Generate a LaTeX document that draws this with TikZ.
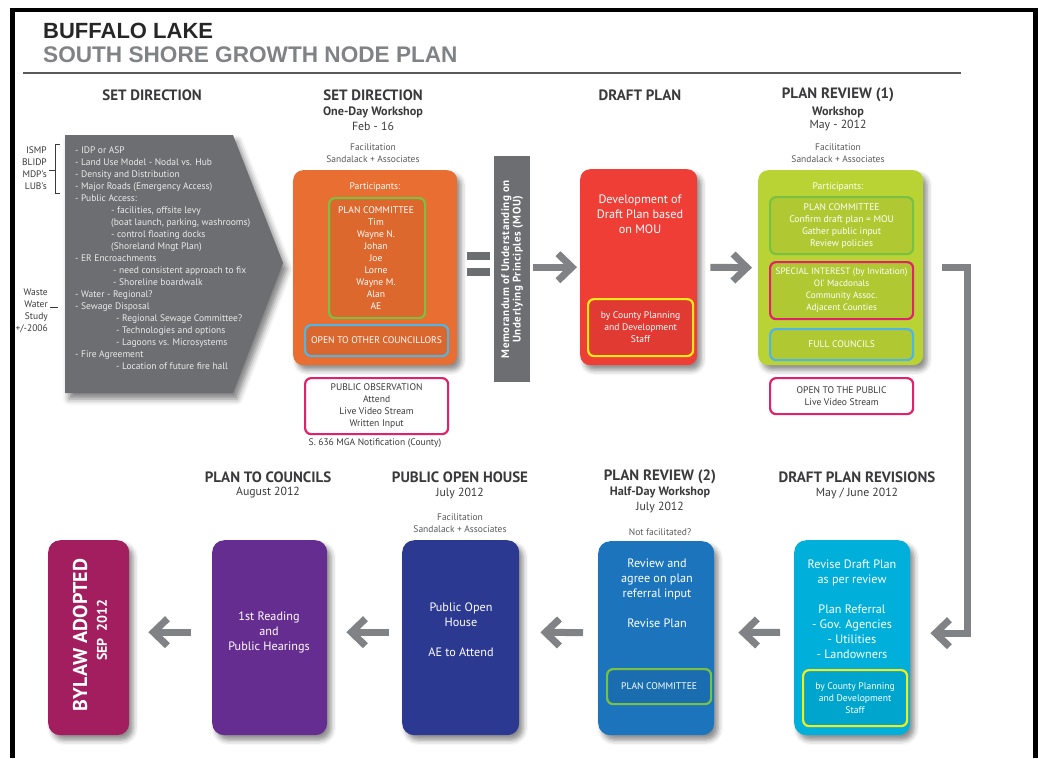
\documentclass[tikz,border=0pt]{standalone}
\usepackage{fontspec}
\setmainfont{PT Sans}
\newfontfamily\titlefont{Liberation Sans}
\newfontfamily\moufont[LetterSpace=5.0]{PT Sans}
\usetikzlibrary{arrows.meta,shadows.blur,calc}
\definecolor{cOrange}{HTML}{E86E31}
\definecolor{cRed}{HTML}{EE3E36}
\definecolor{cLime}{HTML}{BAD334}
\definecolor{cGreen}{HTML}{7AC143}
\definecolor{cBlueL}{HTML}{4FB5E6}
\definecolor{cPink}{HTML}{E0226B}
\definecolor{cYellow}{HTML}{F5EB19}
\definecolor{cGray}{HTML}{6D6E71}
\definecolor{cArrow}{HTML}{808285}
\definecolor{cBylaw}{HTML}{A21E5E}
\definecolor{cPurple}{HTML}{662D91}
\definecolor{cNavy}{HTML}{2B3990}
\definecolor{cBlue}{HTML}{1C75BC}
\definecolor{cCyan}{HTML}{00B0DB}
\definecolor{cHead}{HTML}{3A3A3C}
\definecolor{cSub}{HTML}{58595B}
\definecolor{cTitleGray}{HTML}{808285}
\tikzset{
  stage/.style={rectangle, rounded corners=10pt, anchor=north west, inner sep=0pt,
    blur shadow={shadow xshift=4pt, shadow yshift=-5pt, shadow blur radius=5pt, shadow opacity=45}},
  inbox/.style={rectangle, rounded corners=6pt, anchor=north west, line width=2.2pt, inner sep=0pt},
  hdr/.style={font=\bfseries\fontsize{15}{17}\selectfont, text=cHead, inner sep=0pt},
  subhdr/.style={font=\bfseries\fontsize{12.2}{14}\selectfont, text=cHead, inner sep=0pt},
  datetxt/.style={font=\fontsize{11.8}{14}\selectfont, text=cHead, inner sep=0pt},
  notetxt/.style={font=\fontsize{9.5}{12}\selectfont, text=cSub, inner sep=0pt, align=center},
  wsmall/.style={font=\fontsize{9.6}{12}\selectfont, text=white, inner sep=0pt, align=center},
  dsmall/.style={font=\fontsize{9.6}{12}\selectfont, text=cHead, inner sep=0pt, align=center},
  wbody/.style={font=\fontsize{12.2}{15}\selectfont, text=white, inner sep=0pt, align=center},
  flow/.style={draw=cArrow, line width=7pt, line join=miter, -{Straight Barb[length=14pt,width=27pt]}},
}
\begin{document}
\begin{tikzpicture}[x=1pt,y=-1pt]
\useasboundingbox (0,0) rectangle (1038,758);
% frame
\fill[black] (10,8) rectangle (1038,12);
\fill[black] (10,8) rectangle (15,758);
\fill[black] (1033,8) rectangle (1038,758);
% title
\node[anchor=base west, inner sep=0pt, font=\titlefont\bfseries\fontsize{22}{26}\selectfont, text=black!85] (title1) at (43,38) {BUFFALO LAKE};
\node[anchor=base west, inner sep=0pt, font=\titlefont\bfseries\fontsize{22.6}{26}\selectfont, text=cTitleGray] (title2) at (43,62) {SOUTH SHORE GROWTH NODE PLAN};
\draw[cSub, line width=1.1pt] (23,73) -- (961,73);

% ---------- top row headers
\node[hdr] (h1) at (152,95) {SET DIRECTION};
\node[hdr] (h2) at (373,95) {SET DIRECTION};
\node[subhdr] (h2b) at (373,112) {One-Day Workshop};
\node[datetxt] (h2c) at (373,126) {Feb - 16};
\node[notetxt] (h2d) at (373,153) {Facilitation\\Sandalack + Associates};
\node[hdr] (h3) at (640,95) {DRAFT PLAN};
\node[hdr] (h4) at (838,95) {PLAN REVIEW (1)};
\node[subhdr] (h4b) at (838,112) {Workshop};
\node[datetxt] (h4c) at (838,126) {May - 2012};
\node[notetxt] (h4d) at (838,153) {Facilitation\\Sandalack + Associates};

% ---------- left agenda pentagon
\fill[cGray, blur shadow={shadow xshift=4pt, shadow yshift=-6pt, shadow blur radius=6pt, shadow opacity=50}]
  (65,135) -- (233,135) -- (283,263) -- (233,393) -- (65,393) -- cycle;
\node[anchor=north west, inner sep=0pt, align=left, font=\fontsize{9.5}{12}\selectfont, text=white!92!black] (agenda) at (75,147) {%
- IDP or ASP\\
- Land Use Model - Nodal vs. Hub\\
- Density and Distribution\\
- Major Roads (Emergency Access)\\
- Public Access:\\
\hspace*{36pt}- facilities, offsite levy\\
\hspace*{36pt}(boat launch, parking, washrooms)\\
\hspace*{36pt}- control floating docks\\
\hspace*{36pt}(Shoreland Mngt Plan)\\
- ER Encroachments\\
\hspace*{38pt}- need consistent approach to fix\\
\hspace*{38pt}- Shoreline boardwalk\\
- Water - Regional?\\
- Sewage Disposal\\
\hspace*{41pt}- Regional Sewage Committee?\\
\hspace*{41pt}- Technologies and options\\
\hspace*{41pt}- Lagoons vs. Microsystems\\
- Fire Agreement\\
\hspace*{41pt}- Location of future fire hall};
\node[anchor=north east, inner sep=0pt, align=right, font=\fontsize{9.5}{12}\selectfont, text=cHead] (plans) at (47,147) {ISMP\\BLIDP\\MDP’s\\LUB’s};
\draw[cHead, line width=0.8pt] (60,144) -- (55,144) -- (55,193) -- (60,193) (49,170) -- (55,170);
\node[anchor=north east, inner sep=0pt, align=right, font=\fontsize{9.5}{12}\selectfont, text=cHead] (waste) at (48,289) {Waste\\Water\hspace*{4pt}\\Study\\+/-2006};
\draw[cHead, line width=0.8pt] (50,307.5) -- (58,307.5);

% ---------- orange workshop box
\node[stage, fill=cOrange, minimum width=164pt, minimum height=195pt] (setdir) at (293,170) {};
\node[wsmall] (part1) at (375,187) {Participants:};
\node[inbox, draw=cGreen, fill=black, fill opacity=0.05, minimum width=96pt, minimum height=120pt] (pc1) at (328,197) {};
\node[wsmall] (pc1t) at (376,258.5) {PLAN COMMITTEE\\Tim\\Wayne N.\\Johan\\Joe\\Lorne\\Wayne M.\\Alan\\AE};
\node[inbox, draw=cBlueL, fill=black, fill opacity=0.06, minimum width=143pt, minimum height=31pt] (oc) at (304,324) {};
\node[wsmall] (oct) at (oc.center) {OPEN TO OTHER COUNCILLORS};
\node[inbox, draw=cPink, fill=white, minimum width=143pt, minimum height=56pt] (pubobs) at (304,377) {};
\node[dsmall] (pubobst) at (pubobs.center) {PUBLIC OBSERVATION\\Attend\\Live Video Stream\\Written Input};
\node[notetxt, text=cHead] (mga) at (375,443) {S. 636 MGA Notification (County)};

% equals sign
\fill[cGray] (467,252) rectangle (490,260);
\fill[cGray] (467,268) rectangle (490,276);

% MOU bar
\node[rectangle, anchor=north west, fill=cGray, minimum width=36pt, minimum height=226pt, inner sep=0pt] (mou) at (494,156) {};
\node[rotate=90, inner sep=0pt, align=center, text=white, font=\moufont\bfseries\fontsize{11}{11.5}\selectfont] (mout) at (mou.center) {Memorandum of Understanding on\\Underlying Principles (MOU)};

% ---------- red draft plan box
\node[stage, fill=cRed, minimum width=117pt, minimum height=196pt] (draft) at (580,169) {};
\node[wbody] (draftt) at (640,214) {Development of\\Draft Plan based\\on MOU};
\node[inbox, draw=cYellow, fill=black, fill opacity=0.06, minimum width=105pt, minimum height=57pt] (ystaff1) at (587,298) {};
\node[wsmall] (ystaff1t) at (ystaff1.center) {by County Planning\\and Development\\Staff};

% ---------- lime review box
\node[stage, fill=cLime, minimum width=165pt, minimum height=195pt] (review1) at (758,170) {};
\node[wsmall] (part2) at (838,187) {Participants:};
\node[inbox, draw=cGreen, fill=black, fill opacity=0.05, minimum width=143pt, minimum height=57pt] (pc2) at (769,196) {};
\node[wsmall] (pc2t) at (pc2.center) {PLAN COMMITTEE\\Confirm draft plan = MOU\\Gather public input\\Review policies};
\node[inbox, draw=cPink, fill=black, fill opacity=0.05, minimum width=143pt, minimum height=57pt] (si) at (769,261) {};
\node[wsmall, font=\fontsize{9.2}{12}\selectfont] (sit) at (si.center) {SPECIAL INTEREST (by Invitation)\\Ol’ Macdonals\\Community Assoc.\\Adjacent Counties};
\node[inbox, draw=cBlueL, fill=black, fill opacity=0.05, minimum width=143pt, minimum height=31pt] (fc) at (769,328) {};
\node[wsmall] (fct) at (fc.center) {FULL COUNCILS};
\node[inbox, draw=cPink, fill=white, minimum width=143pt, minimum height=36pt] (otp) at (769,377) {};
\node[dsmall] (otpt) at (otp.center) {OPEN TO THE PUBLIC\\Live Video Stream};

% ---------- bottom row headers
\node[hdr] (b1) at (268,477) {PLAN TO COUNCILS};
\node[datetxt] (b1b) at (268,493) {August 2012};
\node[hdr] (b2) at (460,477) {PUBLIC OPEN HOUSE};
\node[datetxt] (b2b) at (460,493) {July 2012};
\node[notetxt] (b2c) at (460,523) {Facilitation\\Sandalack + Associates};
\node[hdr] (b3) at (660,477) {PLAN REVIEW (2)};
\node[subhdr] (b3b) at (660,492) {Half-Day Workshop};
\node[datetxt] (b3c) at (660,507) {July 2012};
\node[notetxt] (b3d) at (660,532) {Not facilitated?};
\node[hdr] (b4) at (857,477) {DRAFT PLAN REVISIONS};
\node[datetxt] (b4b) at (857,493) {May / June 2012};

% ---------- bottom boxes
\node[stage, rounded corners=12pt, fill=cCyan, minimum width=116pt, minimum height=195pt] (revisions) at (794,540) {};
\node[wbody] (revt) at (852,609) {Revise Draft Plan\\as per review\\[15pt]Plan Referral\\- Gov. Agencies\\- Utilities\\- Landowners};
\node[inbox, draw=cYellow, fill=black, fill opacity=0.06, minimum width=104pt, minimum height=56pt] (ystaff2) at (802,669) {};
\node[wsmall] (ystaff2t) at (ystaff2.center) {by County Planning\\and Development\\Staff};

\node[stage, rounded corners=12pt, fill=cBlue, minimum width=116pt, minimum height=194pt] (review2) at (598,541) {};
\node[wbody] (rev2t) at (657,593) {Review and\\agree on plan\\referral input\\[15pt]Revise Plan};
\node[inbox, draw=cGreen, fill=black, fill opacity=0.06, minimum width=104pt, minimum height=35pt] (pc3) at (606,668) {};
\node[wsmall] (pc3t) at (pc3.center) {PLAN COMMITTEE};

\node[stage, rounded corners=12pt, fill=cNavy, minimum width=117pt, minimum height=195pt] (openhouse) at (402,540) {};
\node[wbody] (oht) at (461,629.5) {Public Open\\House\\[15pt]AE to Attend};

\node[stage, rounded corners=12pt, fill=cPurple, minimum width=115pt, minimum height=195pt] (councils) at (212,540) {};
\node[wbody] (cot) at (269,632) {1st Reading\\and\\Public Hearings};

\node[stage, rounded corners=12pt, fill=cBylaw, minimum width=81pt, minimum height=195pt] (bylaw) at (48,540) {};
\node[rotate=90, inner sep=0pt, text=white, font=\bfseries\fontsize{20}{22}\selectfont] (bylawt) at (80,635) {BYLAW ADOPTED};
\node[rotate=90, inner sep=0pt, text=white, font=\bfseries\fontsize{14}{16}\selectfont] (bylawd) at (102,630) {SEP\hspace{7pt}2012};

% ---------- connectors
\draw[flow, shorten <=3pt, shorten >=3pt] (mou.east |- draft.west) -- (draft.west);
\draw[flow, shorten <=13pt, shorten >=6pt] (draft.east) -- (review1.west);
\draw[draw=cArrow, line width=7pt, line join=miter, -{Straight Barb[length=14pt,width=27pt]}]
  ([xshift=19pt]review1.east) -- ++(25,0) |- ([xshift=20pt,yshift=4.5pt]revisions.east);
\draw[flow, shorten <=14pt, shorten >=24pt] ([yshift=5.5pt]revisions.west) -- ([yshift=5.5pt]review2.east);
\draw[flow, shorten <=15pt, shorten >=21pt] ([yshift=5.5pt]review2.west) -- ([yshift=5.5pt]openhouse.east);
\draw[flow, shorten <=13pt, shorten >=19pt] ([yshift=5.5pt]openhouse.west) -- ([yshift=5.5pt]councils.east);
\draw[flow, shorten <=21pt, shorten >=19pt] ([yshift=5.5pt]councils.west) -- ([yshift=5.5pt]bylaw.east);
\end{tikzpicture}
\end{document}
